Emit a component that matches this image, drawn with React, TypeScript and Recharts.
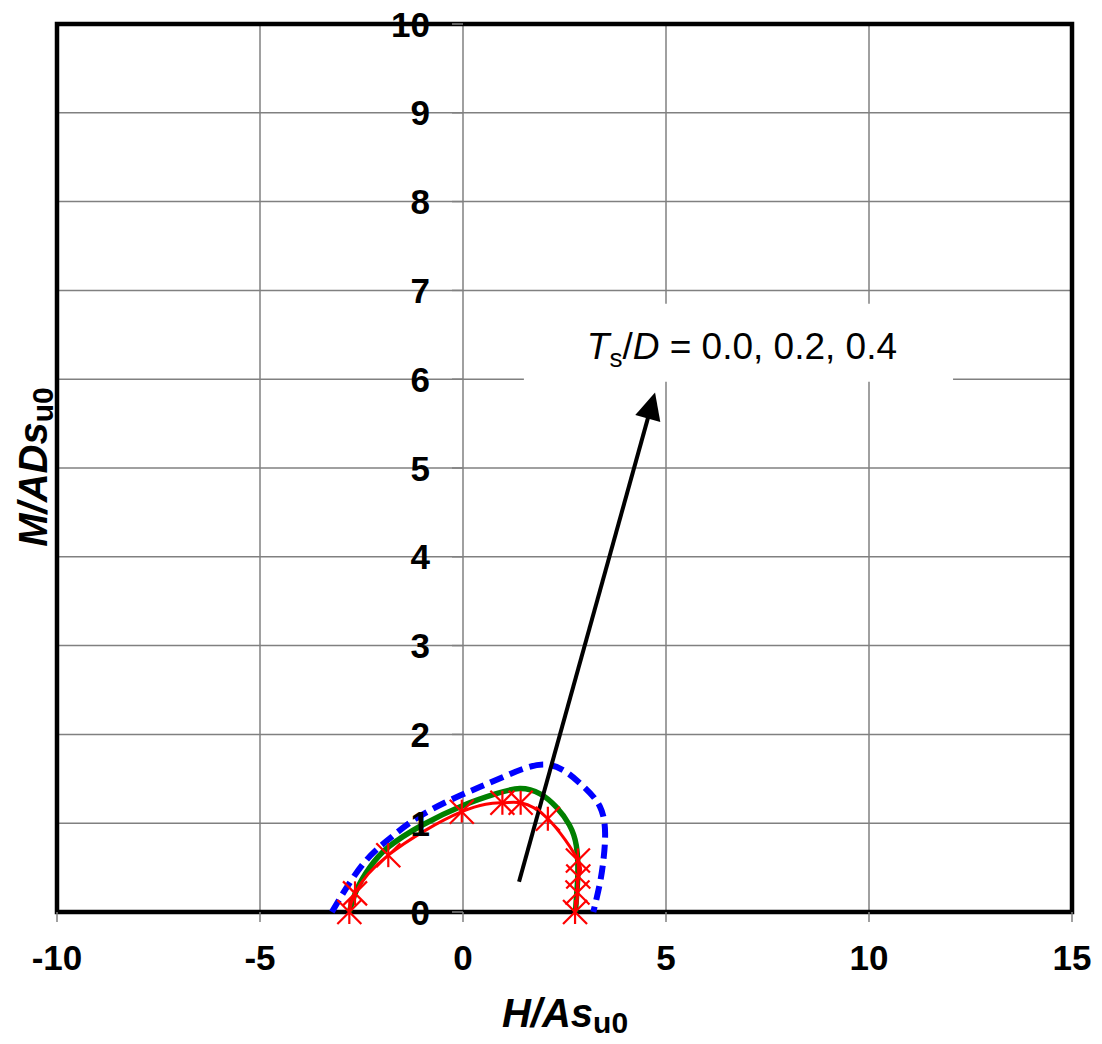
import {
  ComposedChart,
  Line,
  XAxis,
  YAxis,
  CartesianGrid,
  ReferenceArea,
  ReferenceLine,
  ReferenceDot,
} from 'recharts';

const FONT = 'Arial, "Liberation Sans", Helvetica, sans-serif';

const xTicks = [-10, -5, 0, 5, 10, 15];
const yTicks = [0, 1, 2, 3, 4, 5, 6, 7, 8, 9, 10];

// Ts/D = 0.4 (outer, dashed)
const dashedCurve = [
  { x: -3.23, y: 0 },
  { x: -2.86, y: 0.28 },
  { x: -2.37, y: 0.59 },
  { x: -1.8, y: 0.83 },
  { x: -1.06, y: 1.08 },
  { x: -0.03, y: 1.32 },
  { x: 0.99, y: 1.52 },
  { x: 2.06, y: 1.66 },
  { x: 2.88, y: 1.45 },
  { x: 3.37, y: 1.19 },
  { x: 3.5, y: 0.89 },
  { x: 3.46, y: 0.59 },
  { x: 3.37, y: 0.32 },
  { x: 3.21, y: 0 },
];

// Ts/D = 0.2 (green)
const greenCurve = [
  { x: -2.8, y: 0 },
  { x: -2.62, y: 0.25 },
  { x: -2.3, y: 0.5 },
  { x: -1.84, y: 0.73 },
  { x: -1.0, y: 0.98 },
  { x: 0, y: 1.2 },
  { x: 0.8, y: 1.33 },
  { x: 1.4, y: 1.39 },
  { x: 1.9, y: 1.33 },
  { x: 2.3, y: 1.18 },
  { x: 2.62, y: 0.98 },
  { x: 2.79, y: 0.75 },
  { x: 2.83, y: 0.45 },
  { x: 2.8, y: 0.2 },
  { x: 2.77, y: 0 },
];

// Ts/D = 0.0 (red, with markers)
const redPoints = [
  { x: -2.8, y: 0 },
  { x: -2.66, y: 0.21 },
  { x: -1.84, y: 0.64 },
  { x: -0.03, y: 1.13 },
  { x: 0.97, y: 1.23 },
  { x: 1.42, y: 1.23 },
  { x: 2.09, y: 1.05 },
  { x: 2.83, y: 0.58 },
  { x: 2.84, y: 0.4 },
  { x: 2.82, y: 0.22 },
  { x: 2.76, y: 0 },
];

// annotation
const arrowTail = { x: 1.38, y: 0.34 };
const arrowTip = { x: 4.73, y: 5.85 };
const labelBox = { x1: 1.5, x2: 12.07, y1: 5.97, y2: 6.85 };
const labelAnchor = { x: 3.05, y: 6.23 };

const StarDot = (p: any) => {
  const { cx, cy, key } = p;
  if (cx == null || cy == null) return <g key={key} />;
  const s = 12;
  return (
    <g key={key} stroke='#ff0000' strokeWidth={2.2}>
      <line x1={cx - s} y1={cy - s} x2={cx + s} y2={cy + s} />
      <line x1={cx - s} y1={cy + s} x2={cx + s} y2={cy - s} />
      <line x1={cx} y1={cy - s} x2={cx} y2={cy + s} />
    </g>
  );
};

const ArrowShape = (p: any) => {
  const { x1, y1, x2, y2 } = p;
  const dx = x2 - x1;
  const dy = y2 - y1;
  const len = Math.hypot(dx, dy) || 1;
  const ux = dx / len;
  const uy = dy / len;
  const head = 27;
  const half = 13;
  const bx = x2 - ux * head;
  const by = y2 - uy * head;
  const px = -uy;
  const py = ux;
  return (
    <g>
      <line x1={x1} y1={y1} x2={bx + ux * 3} y2={by + uy * 3} stroke='#000' strokeWidth={4} />
      <polygon
        points={`${x2},${y2} ${bx + px * half},${by + py * half} ${bx - px * half},${by - py * half}`}
        fill='#000'
      />
    </g>
  );
};

const XTick = (p: any) => {
  const { x, y, payload } = p;
  return (
    <text x={x} y={y + 46} textAnchor='middle' fontFamily={FONT} fontWeight='bold' fontSize={35} fill='#000'>
      {payload.value}
    </text>
  );
};

const yTickShape = (v: number) => (p: any) => {
  const { cx, cy } = p;
  return (
    <g>
      <line x1={cx - 11} y1={cy} x2={cx} y2={cy} stroke='#808080' strokeWidth={1.5} />
      <text x={cx - 33} y={cy + 12.5} textAnchor='end' fontFamily={FONT} fontWeight='bold' fontSize={35} fill='#000'>
        {v}
      </text>
    </g>
  );
};

const LabelText = (p: any) => {
  const { cx, cy } = p;
  return (
    <text x={cx} y={cy} fontFamily={FONT} fontSize={37} fill='#000'>
      <tspan fontStyle='italic'>T</tspan>
      <tspan fontSize={26} dy={8}>s</tspan>
      <tspan dy={-8}>/</tspan>
      <tspan fontStyle='italic'>D</tspan>
      <tspan> = 0.0, 0.2, 0.4</tspan>
    </text>
  );
};

export default function App() {
  return (
    <div style={{ width: 1102, height: 1044 }}>
      <style>{'body{margin:0}'}</style>
      <ComposedChart width={1102} height={1044} margin={{ top: 24, right: 30, bottom: 0, left: 57 }}>
        <CartesianGrid
          stroke='#808080'
          strokeWidth={1.5}
          horizontalValues={yTicks}
          verticalValues={xTicks}
        />
        <XAxis
          type='number'
          dataKey='x'
          domain={[-10, 15]}
          ticks={xTicks}
          height={132}
          axisLine={false}
          tickLine={{ stroke: '#808080', strokeWidth: 1.5 }}
          tickSize={10}
          tick={<XTick />}
        />
        <YAxis type='number' dataKey='y' domain={[0, 10]} ticks={yTicks} hide />
        <ReferenceArea
          x1={labelBox.x1}
          x2={labelBox.x2}
          y1={labelBox.y1}
          y2={labelBox.y2}
          fill='#ffffff'
          fillOpacity={1}
          stroke='none'
        />
        <ReferenceArea x1={-10} x2={15} y1={0} y2={10} fill='none' stroke='#000' strokeWidth={4.5} />
        <Line
          data={dashedCurve}
          dataKey='y'
          type='natural'
          stroke='#0000ff'
          strokeWidth={6}
          strokeDasharray='14 7'
          dot={false}
          isAnimationActive={false}
        />
        <Line
          data={greenCurve}
          dataKey='y'
          type='natural'
          stroke='#008000'
          strokeWidth={5.5}
          dot={false}
          isAnimationActive={false}
        />
        <Line
          data={redPoints}
          dataKey='y'
          type='natural'
          stroke='#ff0000'
          strokeWidth={3}
          dot={StarDot}
          isAnimationActive={false}
        />
        <ReferenceLine
          segment={[arrowTail, arrowTip]}
          stroke='#000'
          shape={ArrowShape}
        />
        {yTicks.map((v) => (
          <ReferenceDot key={v} x={0} y={v} r={1} shape={yTickShape(v)} ifOverflow='visible' />
        ))}
        <ReferenceDot x={labelAnchor.x} y={labelAnchor.y} r={1} shape={LabelText} />
        <text x={565} y={1027} textAnchor='middle' fontFamily={FONT} fontWeight='bold' fontSize={40} fill='#000'>
          <tspan fontStyle='italic'>H/As</tspan>
          <tspan fontSize={30} dy={6}>u0</tspan>
        </text>
        <text
          x={47}
          y={467}
          transform='rotate(-90, 47, 467)'
          textAnchor='middle'
          fontFamily={FONT}
          fontWeight='bold'
          fontSize={40}
          fill='#000'
        >
          <tspan fontStyle='italic'>M/ADs</tspan>
          <tspan fontSize={30} dy={6}>u0</tspan>
        </text>
      </ComposedChart>
    </div>
  );
}
